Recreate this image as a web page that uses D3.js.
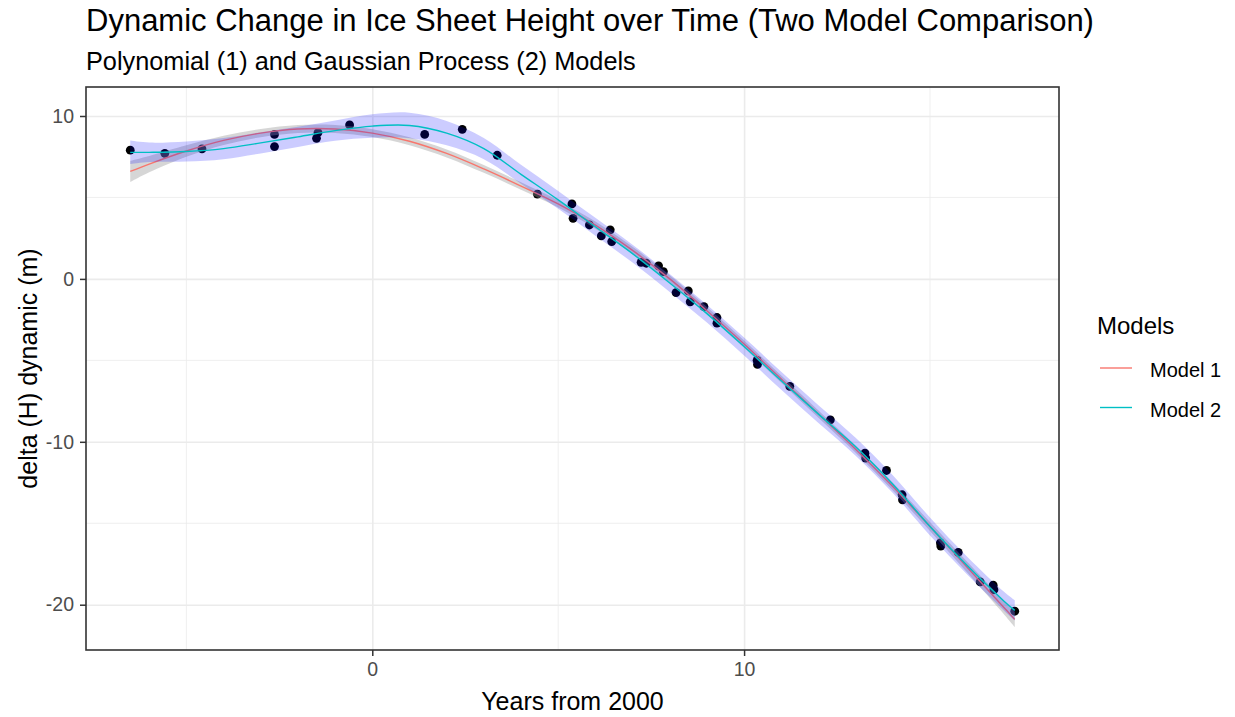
<!DOCTYPE html>
<meta charset="utf-8">
<style>

body { margin: 0; background: #fff; }

svg text { font-family: "Liberation Sans", Arial, sans-serif; }

.grid line { stroke: #ebebeb; }
.grid path { stroke-width: 0; }

.axis path { display: none; }
.axis line { stroke: #333333; stroke-width: 1.5px; }
.axis text { fill: #4d4d4d; font-size: 19.5px; }

.band1 { fill: #999999; opacity: 0.4; }
.band2 { fill: blue; opacity: 0.2; }

.line { fill: none; stroke-width: 1.4px; }

</style>
<body>

<script src="https://d3js.org/d3.v7.min.js"></script>
<script>

// observations
var pointYears  = [-6.51, -5.58, -4.58, -2.63, -2.63, -1.46, -1.50, -0.61, 1.41, 2.42, 3.36, 4.44,
                   5.37, 5.40, 5.84, 6.16, 6.40, 6.44, 7.23, 7.37, 7.70, 7.83, 8.17, 8.50, 8.55,
                   8.92, 9.27, 9.27, 10.35, 10.36, 11.23, 12.32, 13.25, 13.27, 13.83, 14.25, 14.26,
                   15.28, 15.29, 15.76, 16.35, 16.70, 16.72, 17.28];
var pointHeight = [7.90, 7.71, 7.98, 8.87, 8.12, 8.98, 8.63, 9.45, 8.87, 9.18, 7.59, 5.21,
                   4.60, 3.72, 3.31, 2.64, 3.01, 2.29, 1.02, 0.96, 0.80, 0.45, -0.84, -0.74, -1.41,
                   -1.70, -2.37, -2.72, -5.00, -5.25, -6.60, -8.65, -10.70, -11.00, -11.76, -13.25, -13.56,
                   -16.20, -16.40, -16.79, -18.60, -18.80, -19.08, -20.40];

// fitted curves, read at these years
var fitYears  = [-6.51, -6, -5, -4, -3, -2, -1, 0, 1, 2, 3, 4, 5, 6, 7, 8, 9, 10, 11, 12, 13, 14, 15, 16, 17, 17.28];
// Model 1 : polynomial fit and half width of its band
var model1Fit = [6.60, 7.05, 7.85, 8.50, 8.95, 9.20, 9.20, 8.95, 8.45, 7.70, 6.75, 5.70, 4.60, 3.30, 1.75, 0.00,
                 -1.95, -4.00, -6.15, -8.30, -10.45, -12.75, -15.20, -17.70, -20.20, -20.90];
var model1Ci  = [0.65, 0.50, 0.35, 0.28, 0.25, 0.24, 0.24, 0.24, 0.24, 0.24, 0.24, 0.23, 0.22, 0.22, 0.22, 0.22,
                 0.22, 0.22, 0.22, 0.22, 0.22, 0.24, 0.28, 0.33, 0.42, 0.48];
// Model 2 : gaussian process fit and half width of its band
var model2Fit = [7.77, 7.77, 7.82, 8.00, 8.35, 8.72, 9.10, 9.38, 9.42, 8.95, 8.00, 6.42, 4.85, 3.20, 1.55, -0.25,
                 -2.13, -4.15, -6.25, -8.30, -10.30, -12.60, -15.20, -17.60, -19.80, -20.35];
var model2Ci  = [0.72, 0.60, 0.62, 0.65, 0.65, 0.62, 0.62, 0.72, 0.78, 0.75, 0.65, 0.58, 0.55, 0.55, 0.55, 0.55,
                 0.55, 0.55, 0.55, 0.55, 0.55, 0.55, 0.55, 0.55, 0.58, 0.62];

var modelNames  = ["Model 1", "Model 2"];
var modelColors = ["#F8766D", "#00BFC4"];

var xTicks = [0, 10];
var xMinor = [-5, 5, 15];
var yTicks = [-20, -10, 0, 10];
var yMinor = [-15, -5, 5];

// panel position
var margin = {top: 87, right: 176, bottom: 67, left: 86},
    width = 1235 - margin.left - margin.right,
    height = 717 - margin.top - margin.bottom;

var x = d3.scaleLinear().domain([-7.70, 18.47]).range([0, width]);
var y = d3.scaleLinear().domain([-22.78, 11.78]).range([height, 0]);

var root = d3.select("body")
  .append("svg")
    .attr("width", 1235)
    .attr("height", 717);

var svg = root.append("g")
    .attr("transform", "translate(" + margin.left + "," + margin.top + ")");

// minor gridlines
svg.append("g").attr("class", "grid")
    .selectAll("line").data(xMinor).enter().append("line")
      .attr("x1", function(d) { return x(d); }).attr("x2", function(d) { return x(d); })
      .attr("y1", 0).attr("y2", height)
      .style("stroke-width", 0.8);
svg.append("g").attr("class", "grid")
    .selectAll("line").data(yMinor).enter().append("line")
      .attr("y1", function(d) { return y(d); }).attr("y2", function(d) { return y(d); })
      .attr("x1", 0).attr("x2", width)
      .style("stroke-width", 0.8);

// major gridlines
svg.append("g")
    .attr("class", "grid")
    .attr("transform", "translate(0," + height + ")")
    .call(d3.axisBottom(x).tickValues(xTicks).tickSize(-height).tickFormat(""))
    .selectAll("line").style("stroke-width", 1.6);
svg.append("g")
    .attr("class", "grid")
    .call(d3.axisLeft(y).tickValues(yTicks).tickSize(-width).tickFormat(""))
    .selectAll("line").style("stroke-width", 1.6);

// points go under the smooths
svg.selectAll(".dot")
    .data(pointYears)
  .enter().append("circle")
    .attr("class", "dot")
    .attr("r", 4.4)
    .attr("cx", function(d) { return x(d); })
    .attr("cy", function(d, i) { return y(pointHeight[i]); })
    .style("fill", "black");

function band(fit, ci) {
  return d3.area()
      .curve(d3.curveCatmullRom)
      .x(function(d) { return x(d); })
      .y0(function(d, i) { return y(fit[i] - ci[i]); })
      .y1(function(d, i) { return y(fit[i] + ci[i]); });
}

function fitLine(fit) {
  return d3.line()
      .curve(d3.curveCatmullRom)
      .x(function(d) { return x(d); })
      .y(function(d, i) { return y(fit[i]); });
}

// model 1 : grey band + red line
svg.append("path")
    .datum(fitYears)
    .attr("class", "band1")
    .attr("d", band(model1Fit, model1Ci));
svg.append("path")
    .datum(fitYears)
    .attr("class", "line")
    .style("stroke", modelColors[0])
    .attr("d", fitLine(model1Fit));

// model 2 : blue band + cyan line
svg.append("path")
    .datum(fitYears)
    .attr("class", "band2")
    .attr("d", band(model2Fit, model2Ci));
svg.append("path")
    .datum(fitYears)
    .attr("class", "line")
    .style("stroke", modelColors[1])
    .attr("d", fitLine(model2Fit));

// panel border
svg.append("rect")
    .attr("width", width)
    .attr("height", height)
    .style("fill", "none")
    .style("stroke", "#333333")
    .style("stroke-width", 1.6);

// axes (plain hyphen for negatives, as in the original)
svg.append("g")
    .attr("class", "axis")
    .attr("transform", "translate(0," + height + ")")
    .call(d3.axisBottom(x).tickValues(xTicks).tickSize(6).tickPadding(6)
        .tickFormat(function(d) { return String(d); }));

svg.append("g")
    .attr("class", "axis")
    .call(d3.axisLeft(y).tickValues(yTicks).tickSize(6).tickPadding(6)
        .tickFormat(function(d) { return String(d); }));

// axis titles
svg.append("text")
    .attr("x", width / 2)
    .attr("y", height + 60)
    .style("text-anchor", "middle")
    .style("font-size", "25px")
    .text("Years from 2000");

svg.append("text")
    .attr("transform", "rotate(-90)")
    .attr("x", -height / 2)
    .attr("y", -margin.left + 37)
    .style("text-anchor", "middle")
    .style("font-size", "25px")
    .text("delta (H) dynamic (m)");

// titles
root.append("text")
    .attr("x", 86)
    .attr("y", 31)
    .style("font-size", "31px")
    .text("Dynamic Change in Ice Sheet Height over Time (Two Model Comparison)");

root.append("text")
    .attr("x", 86)
    .attr("y", 70)
    .style("font-size", "25.3px")
    .text("Polynomial (1) and Gaussian Process (2) Models");

// legend
var legend = root.append("g")
    .attr("transform", "translate(1097,0)");

legend.append("text")
    .attr("x", 0)
    .attr("y", 334)
    .style("font-size", "24px")
    .text("Models");

var keys = legend.selectAll(".key")
    .data(modelNames)
  .enter().append("g")
    .attr("class", "key")
    .attr("transform", function(d, i) { return "translate(0," + (368 + i * 39.5) + ")"; });

keys.append("line")
    .attr("x1", 3).attr("x2", 35)
    .style("stroke", function(d, i) { return modelColors[i]; })
    .style("stroke-width", 1.4);

keys.append("text")
    .attr("x", 53)
    .attr("y", 9)
    .style("font-size", "20px")
    .text(function(d) { return d; });

</script>
</body>
